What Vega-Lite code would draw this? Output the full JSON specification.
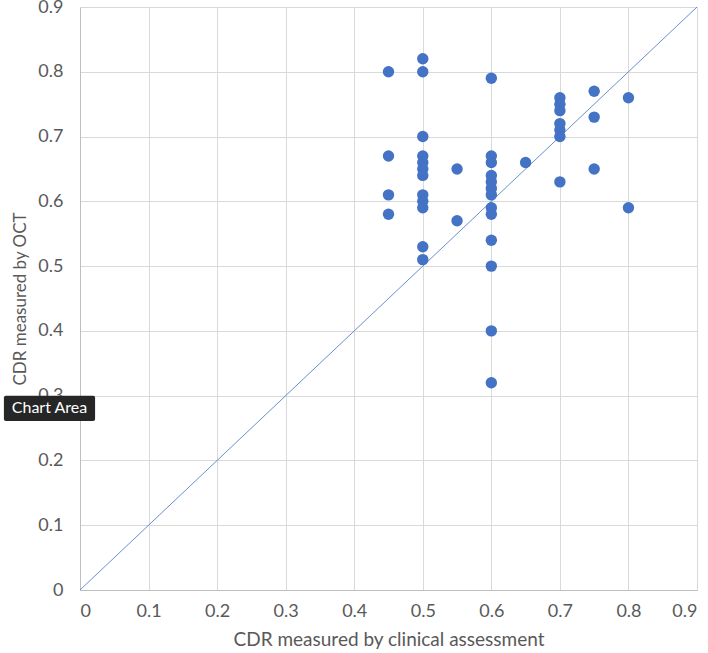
{
  "$schema": "https://vega.github.io/schema/vega-lite/v6.json",
  "description": "CDR measured by OCT vs clinical assessment",
  "width": 617,
  "height": 583,
  "autosize": {"type": "none"},
  "padding": {"left": 80, "top": 7, "right": 11, "bottom": 63},
  "background": "white",
  "config": {
    "font": "Lato",
    "view": {"stroke": null},
    "axis": {
      "labelFont": "Lato",
      "titleFont": "Lato",
      "labelColor": "#595959",
      "titleColor": "#595959",
      "labelFontSize": 18,
      "titleFontSize": 19,
      "titleFontWeight": "normal",
      "gridColor": "#D9D9D9",
      "gridWidth": 1,
      "domainColor": "#BFBFBF",
      "ticks": false
    }
  },
  "datasets": {
    "points": [
      {"clinical": 0.45, "oct": 0.80},
      {"clinical": 0.45, "oct": 0.67},
      {"clinical": 0.45, "oct": 0.61},
      {"clinical": 0.45, "oct": 0.58},
      {"clinical": 0.5, "oct": 0.82},
      {"clinical": 0.5, "oct": 0.80},
      {"clinical": 0.5, "oct": 0.70},
      {"clinical": 0.5, "oct": 0.67},
      {"clinical": 0.5, "oct": 0.66},
      {"clinical": 0.5, "oct": 0.65},
      {"clinical": 0.5, "oct": 0.64},
      {"clinical": 0.5, "oct": 0.61},
      {"clinical": 0.5, "oct": 0.60},
      {"clinical": 0.5, "oct": 0.59},
      {"clinical": 0.5, "oct": 0.53},
      {"clinical": 0.5, "oct": 0.51},
      {"clinical": 0.55, "oct": 0.65},
      {"clinical": 0.55, "oct": 0.57},
      {"clinical": 0.6, "oct": 0.79},
      {"clinical": 0.6, "oct": 0.67},
      {"clinical": 0.6, "oct": 0.66},
      {"clinical": 0.6, "oct": 0.64},
      {"clinical": 0.6, "oct": 0.63},
      {"clinical": 0.6, "oct": 0.62},
      {"clinical": 0.6, "oct": 0.61},
      {"clinical": 0.6, "oct": 0.59},
      {"clinical": 0.6, "oct": 0.58},
      {"clinical": 0.6, "oct": 0.54},
      {"clinical": 0.6, "oct": 0.50},
      {"clinical": 0.6, "oct": 0.40},
      {"clinical": 0.6, "oct": 0.32},
      {"clinical": 0.65, "oct": 0.66},
      {"clinical": 0.7, "oct": 0.76},
      {"clinical": 0.7, "oct": 0.75},
      {"clinical": 0.7, "oct": 0.74},
      {"clinical": 0.7, "oct": 0.72},
      {"clinical": 0.7, "oct": 0.71},
      {"clinical": 0.7, "oct": 0.70},
      {"clinical": 0.7, "oct": 0.63},
      {"clinical": 0.75, "oct": 0.77},
      {"clinical": 0.75, "oct": 0.73},
      {"clinical": 0.75, "oct": 0.65},
      {"clinical": 0.8, "oct": 0.76},
      {"clinical": 0.8, "oct": 0.59}
    ],
    "identity": [
      {"clinical": 0, "oct": 0},
      {"clinical": 0.9, "oct": 0.9}
    ],
    "tooltip": [
      {"x0": -0.111, "x1": 0.022, "y0": 0.261, "y1": 0.300, "xm": -0.0445, "ym": 0.2805, "label": "Chart Area"}
    ]
  },
  "layer": [
    {
      "data": {"name": "identity"},
      "mark": {"type": "line", "color": "#4472C4", "strokeWidth": 0.8},
      "encoding": {
        "x": {
          "field": "clinical",
          "type": "quantitative",
          "scale": {"domain": [0, 0.9], "nice": false, "zero": true},
          "axis": {
            "title": "CDR measured by clinical assessment",
            "values": [0, 0.1, 0.2, 0.3, 0.4, 0.5, 0.6, 0.7, 0.8, 0.9],
            "format": "~g",
            "labelPadding": 12,
            "titlePadding": 10
          }
        },
        "y": {
          "field": "oct",
          "type": "quantitative",
          "scale": {"domain": [0, 0.9], "nice": false, "zero": true},
          "axis": {
            "title": "CDR measured by OCT",
            "titleFontSize": 17,
            "values": [0, 0.1, 0.2, 0.3, 0.4, 0.5, 0.6, 0.7, 0.8, 0.9],
            "format": "~g",
            "labelPadding": 17,
            "titlePadding": 8
          }
        }
      }
    },
    {
      "data": {"name": "points"},
      "mark": {"type": "circle", "color": "#4472C4", "opacity": 1, "size": 130},
      "encoding": {
        "x": {"field": "clinical", "type": "quantitative"},
        "y": {"field": "oct", "type": "quantitative"}
      }
    },
    {
      "data": {"name": "tooltip"},
      "mark": {"type": "rect", "color": "#262626", "cornerRadius": 2},
      "encoding": {
        "x": {"field": "x0", "type": "quantitative"},
        "x2": {"field": "x1"},
        "y": {"field": "y0", "type": "quantitative"},
        "y2": {"field": "y1"}
      }
    },
    {
      "data": {"name": "tooltip"},
      "mark": {"type": "text", "color": "white", "font": "Lato", "fontSize": 16, "align": "center", "baseline": "middle"},
      "encoding": {
        "x": {"field": "xm", "type": "quantitative"},
        "y": {"field": "ym", "type": "quantitative"},
        "text": {"field": "label"}
      }
    }
  ]
}
